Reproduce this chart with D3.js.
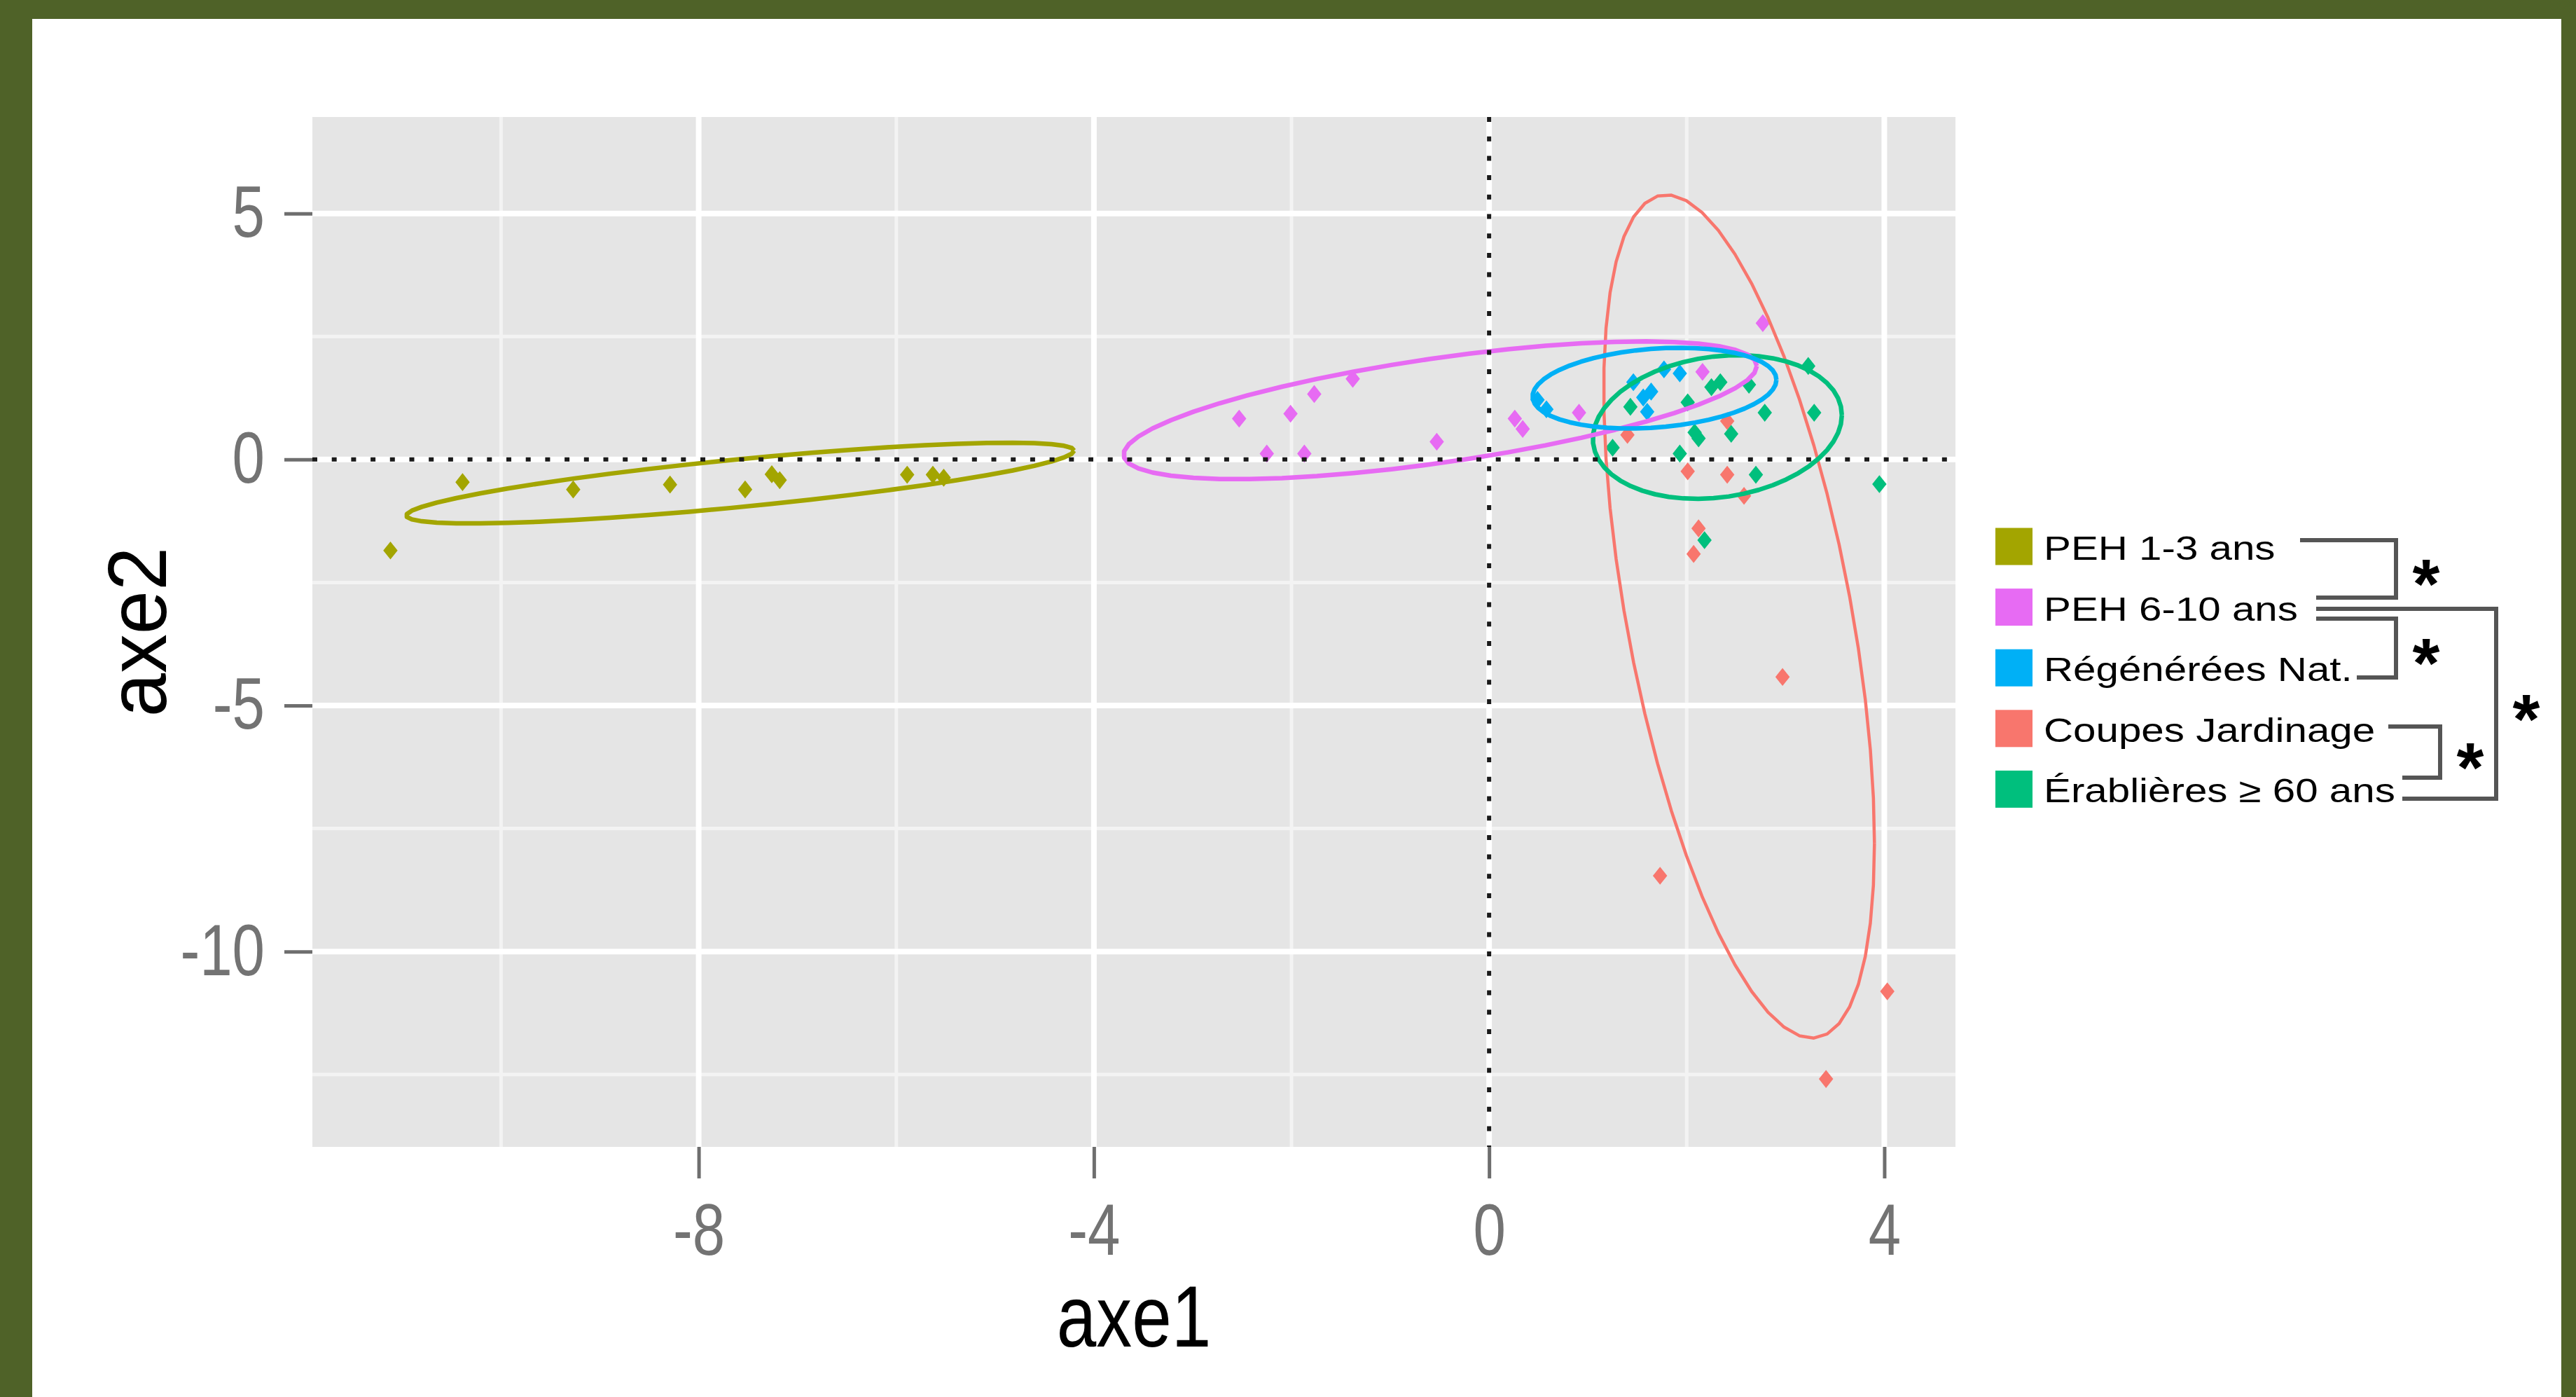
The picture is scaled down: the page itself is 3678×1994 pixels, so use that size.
<!DOCTYPE html>
<html>
<head>
<meta charset="utf-8">
<script src="https://cdn.jsdelivr.net/npm/d3@7"></script>
<style>
  html, body { margin: 0; padding: 0; background: #fff; }
  svg { display: block; }
</style>
</head>
<body>
<div id="chart"></div>
<script>
// ---- data ----
const groups = ["Coupes Jardinage", "Érablières ≥ 60 ans", "PEH 1-3 ans", "PEH 6-10 ans", "Régénérées Nat."];
const legendOrder = ["PEH 1-3 ans", "PEH 6-10 ans", "Régénérées Nat.", "Coupes Jardinage", "Érablières ≥ 60 ans"];

const pointsCoupes = [[2.01,-0.24],[2.41,-0.31],[2.58,-0.74],[2.12,-1.40],[2.07,-1.92],[2.97,-4.42],
  [1.73,-8.46],[4.03,-10.81],[3.41,-12.59],[1.40,0.50],[2.41,0.78]];
const pointsErablieres = [[3.23,1.90],[3.29,0.95],[2.79,0.95],[2.34,1.57],[2.25,1.47],[2.01,1.16],
  [1.43,1.07],[2.12,0.43],[2.08,0.55],[2.45,0.52],[1.25,0.24],[1.93,0.12],[2.70,-0.31],[2.63,1.52],
  [2.18,-1.64],[3.95,-0.50]];
const pointsPeh13 = [[-11.12,-1.85],[-10.39,-0.46],[-9.27,-0.61],[-8.29,-0.51],[-7.53,-0.61],
  [-7.26,-0.30],[-7.18,-0.42],[-5.89,-0.31],[-5.63,-0.31],[-5.52,-0.37]];
const pointsPeh610 = [[-2.53,0.83],[-2.01,0.93],[-1.77,1.33],[-1.38,1.64],[-2.25,0.12],[-1.87,0.12],
  [-0.53,0.36],[0.26,0.83],[0.34,0.62],[0.91,0.95],[2.16,1.78],[2.77,2.77]];
const pointsRegen = [[1.46,1.57],[1.77,1.83],[1.93,1.75],[1.56,1.26],[1.64,1.38],[1.60,0.97],
  [0.49,1.21],[0.58,1.02]];

// 95% ellipses: centre, right-most point and top of each ellipse (same order as groups)
const ellipseCx   = [2.53, 2.31, -7.58, -0.495, 1.674];
const ellipseCy   = [-3.19, 0.66, -0.48, 1.00, 1.45];
const ellipseRight = [[3.90,-7.80],[3.57,0.90],[-4.20,0.18],[2.71,1.90],[2.908,1.62]];
const ellipseYmax = [5.38, 2.12, 0.34, 2.40, 2.27];

const xTicks = [-8, -4, 0, 4];
const yTicks = [5, 0, -5, -10];
const xMinor = [-10, -6, -2, 2];
const yMinor = [2.5, -2.5, -7.5, -12.5];
const xDomain = [-11.91, 4.72];
const yDomain = [-13.97, 6.96];

// significance brackets between legend entries
const comparisons = [["PEH 1-3 ans","PEH 6-10 ans"], ["PEH 6-10 ans","Régénérées Nat."],
  ["PEH 6-10 ans","Érablières ≥ 60 ans"], ["Coupes Jardinage","Érablières ≥ 60 ans"]];
const signif = ["*", "*", "*", "*"];

// ---- layout / style ----
const W = 3678, H = 1994;
const panel = {left: 446, right: 2792, top: 167, bottom: 1637};
const palette = ["#F8766D", "#00BF7D", "#A3A500", "#E76BF3", "#00B0F6"];
const font = "'Liberation Sans', Arial, sans-serif";
const bracketGeom = [
  {x1: 3284, y1: 771, vx: 3421, y2: 853, x2: 3307},
  {x1: 3307, y1: 883, vx: 3421, y2: 967, x2: 3365},
  {x1: 3307, y1: 869, vx: 3564, y2: 1140, x2: 3430},
  {x1: 3410, y1: 1037, vx: 3484, y2: 1110, x2: 3430}
];

const pointsByGroup = [pointsCoupes, pointsErablieres, pointsPeh13, pointsPeh610, pointsRegen];
const color = d3.scaleOrdinal().domain(groups).range(palette);

const x = d3.scaleLinear().domain(xDomain).range([panel.left, panel.right]);
const y = d3.scaleLinear().domain(yDomain).range([panel.bottom, panel.top]);

const svg = d3.select("#chart").append("svg")
  .attr("width", W).attr("height", H);

// olive frame + white page
svg.append("rect").attr("width", W).attr("height", H).attr("fill", "#4F6228");
svg.append("rect").attr("x", 46).attr("y", 27).attr("width", W - 46 - 21).attr("height", H - 27).attr("fill", "#fff");

// panel
svg.append("rect")
  .attr("x", panel.left).attr("y", panel.top)
  .attr("width", panel.right - panel.left).attr("height", panel.bottom - panel.top)
  .attr("fill", "#E5E5E5");

const grid = svg.append("g");
grid.selectAll(".vminor").data(xMinor).join("line")
  .attr("x1", d => x(d)).attr("x2", d => x(d)).attr("y1", panel.top).attr("y2", panel.bottom)
  .attr("stroke", "#F3F3F3").attr("stroke-width", 5);
grid.selectAll(".hminor").data(yMinor).join("line")
  .attr("y1", d => y(d)).attr("y2", d => y(d)).attr("x1", panel.left).attr("x2", panel.right)
  .attr("stroke", "#F3F3F3").attr("stroke-width", 5);
grid.selectAll(".vmajor").data(xTicks).join("line")
  .attr("x1", d => x(d)).attr("x2", d => x(d)).attr("y1", panel.top).attr("y2", panel.bottom)
  .attr("stroke", "#fff").attr("stroke-width", 8);
grid.selectAll(".hmajor").data(yTicks).join("line")
  .attr("y1", d => y(d)).attr("y2", d => y(d)).attr("x1", panel.left).attr("x2", panel.right)
  .attr("stroke", "#fff").attr("stroke-width", 8);

// points (diamonds)
const diamond = {
  draw(ctx, size) {
    const r = Math.sqrt(size) / 2;
    ctx.moveTo(0, -r * 1.25); ctx.lineTo(r, 0); ctx.lineTo(0, r * 1.25); ctx.lineTo(-r, 0); ctx.closePath();
  }
};
const sym = d3.symbol().type(diamond).size(420);
const pts = svg.append("g");
groups.forEach((g, i) => {
  pts.selectAll(null).data(pointsByGroup[i]).join("path")
    .attr("d", sym)
    .attr("transform", d => `translate(${x(d[0])},${y(d[1])})`)
    .attr("fill", color(g));
});

// ellipses
function ellipse(i) {
  const cx = ellipseCx[i], cy = ellipseCy[i];
  const ux = ellipseRight[i][0] - cx, uy = ellipseRight[i][1] - cy;
  const h = ellipseYmax[i] - cy;
  const vy = Math.sqrt(Math.max(h * h - uy * uy, 0));
  return d3.range(52).map(k => {
    const t = 2 * Math.PI * k / 51;
    return [cx + ux * Math.cos(t), cy + uy * Math.cos(t) + vy * Math.sin(t)];
  });
}
const line = d3.line().x(d => x(d[0])).y(d => y(d[1]));
const ell = svg.append("g").attr("fill", "none");
groups.forEach((g, i) => {
  ell.append("path")
    .attr("d", line(ellipse(i)))
    .attr("stroke", color(g))
    .attr("stroke-width", i === 0 ? 4.5 : 6.5)
    .attr("stroke-linejoin", "round");
});

// dotted reference lines
svg.append("line")
  .attr("x1", x(xDomain[0])).attr("x2", x(xDomain[1])).attr("y1", y(0)).attr("y2", y(0))
  .attr("stroke", "#1a1a1a").attr("stroke-width", 6).attr("stroke-dasharray", "7 20.7");
svg.append("line")
  .attr("x1", x(0)).attr("x2", x(0)).attr("y1", y(yDomain[1])).attr("y2", y(yDomain[0]))
  .attr("stroke", "#1a1a1a").attr("stroke-width", 6).attr("stroke-dasharray", "7 20.7");

// axes
const tickColor = "#6e6e6e", labelColor = "#737373";
const sx = 0.81;
svg.append("g")
  .attr("transform", `translate(0,${panel.bottom})`)
  .call(d3.axisBottom(x).tickValues(xTicks).tickSize(45).tickPadding(36).tickFormat(d => `${d}`))
  .call(g => g.select(".domain").remove())
  .call(g => g.selectAll(".tick line").attr("stroke", tickColor).attr("stroke-width", 5))
  .call(g => g.selectAll(".tick text").attr("fill", labelColor)
    .attr("font-size", 103).attr("font-family", font).attr("transform", `scale(${sx},1)`));

svg.append("g")
  .attr("transform", `translate(${panel.left},0)`)
  .call(d3.axisLeft(y).tickValues(yTicks).tickSize(40).tickPadding(28).tickFormat(d => `${d}`))
  .call(g => g.select(".domain").remove())
  .call(g => g.selectAll(".tick line").attr("stroke", tickColor).attr("stroke-width", 5))
  .call(g => g.selectAll(".tick text").attr("fill", labelColor)
    .attr("font-size", 103).attr("font-family", font)
    .attr("x", -68 / sx).attr("transform", `scale(${sx},1)`));

// axis titles
svg.append("g")
  .attr("transform", `translate(${(panel.left + panel.right) / 2},1922)`)
  .append("text")
  .attr("transform", "scale(0.82,1)")
  .attr("text-anchor", "middle")
  .attr("font-family", font).attr("font-size", 124).attr("fill", "#000")
  .text("axe1");
svg.append("g")
  .attr("transform", `translate(237,${(panel.top + panel.bottom) / 2}) rotate(-90)`)
  .append("text")
  .attr("transform", "scale(0.94,1)")
  .attr("text-anchor", "middle")
  .attr("font-family", font).attr("font-size", 119).attr("fill", "#000")
  .text("axe2");

// legend
const rowY = i => 780 + 86.6 * i;
const leg = svg.append("g");
legendOrder.forEach((name, i) => {
  leg.append("rect")
    .attr("x", 2849).attr("y", rowY(i) - 26.5)
    .attr("width", 53).attr("height", 53)
    .attr("fill", color(name));
  leg.append("g")
    .attr("transform", `translate(2918,${rowY(i) + 19})`)
    .append("text")
    .attr("transform", "scale(1.19,1)")
    .attr("font-family", font).attr("font-size", 49).attr("fill", "#000")
    .text(name);
});

// significance brackets
const br = svg.append("g");
comparisons.forEach((pair, i) => {
  const b = bracketGeom[i];
  br.append("path")
    .attr("d", `M${b.x1},${b.y1}H${b.vx}V${b.y2}H${b.x2}`)
    .attr("fill", "none").attr("stroke", "#555").attr("stroke-width", 6);
  br.append("text")
    .attr("x", b.vx + 43).attr("y", (b.y1 + b.y2) / 2 + 56)
    .attr("text-anchor", "middle")
    .attr("font-family", font).attr("font-size", 100).attr("font-weight", "bold")
    .attr("fill", "#000")
    .text(signif[i]);
});
</script>
</body>
</html>
